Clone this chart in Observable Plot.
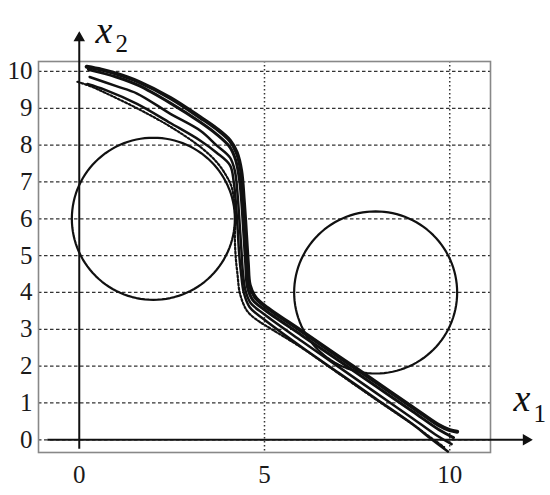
<!DOCTYPE html>
<html><head><meta charset="utf-8">
<script src="https://cdn.jsdelivr.net/npm/d3@7"></script>
<script src="https://cdn.jsdelivr.net/npm/@observablehq/plot@0.6"></script>
<style>body{margin:0;background:#fff}</style>
</head><body><div id="chart"></div>
<script>
// ---- tick values ----
const xTicks = [0, 5, 10];
const xGridTicks = [5, 10];
const yTicks = [0, 1, 2, 3, 4, 5, 6, 7, 8, 9, 10];

// ---- obstacles (circles): centers and radii ----
const circleCx = [2, 8];
const circleCy = [6, 4];
const circleR = [2.2, 2.2];

// ---- trajectories [x1, x2] ----
const trajA = [[0.2,10.13],[0.6,10.05],[1.0,9.94],[1.6,9.72],[2.46,9.28],[3.27,8.75],[3.7,8.45],[4.07,8.12],[4.25,7.8],[4.37,7.3],[4.44,6.5],[4.5,5.6],[4.55,4.8],[4.6,4.2],[4.75,3.87],[5.0,3.64],[6,2.95],[7,2.26],[8,1.57],[9,0.88],[9.7,0.4],[10.0,0.26],[10.2,0.22]];
const trajB = [[0.25,10.05],[1.0,9.85],[1.6,9.62],[2.46,9.14],[3.27,8.62],[3.7,8.3],[4.07,7.94],[4.22,7.6],[4.32,7.1],[4.38,6.5],[4.44,5.6],[4.49,4.8],[4.54,4.15],[4.68,3.8],[5.0,3.53],[6,2.84],[7,2.15],[8,1.46],[9,0.77],[9.7,0.28],[10.1,0.06]];
const trajC = [[0.28,9.85],[1.0,9.6],[1.56,9.4],[2.46,8.85],[3.27,8.39],[3.7,8.0],[4.07,7.66],[4.2,7.3],[4.27,6.7],[4.32,6.0],[4.38,5.1],[4.42,4.5],[4.48,4.08],[4.62,3.72],[5.0,3.4],[6,2.68],[7,1.98],[8,1.28],[9,0.58],[9.6,0.15],[10.05,-0.12]];
const trajD = [[0.22,9.66],[0.7,9.5],[1.56,9.12],[2.46,8.6],[3.27,8.12],[3.7,7.8],[4.07,7.45],[4.17,7.0],[4.23,6.4],[4.27,5.8],[4.32,5.0],[4.37,4.5],[4.44,4.0],[4.6,3.6],[5.0,3.26],[6,2.52],[7,1.82],[8,1.12],[9,0.42],[9.5,0.02],[9.95,-0.32]];
const trajDotted = [[-0.05,9.72],[0.3,9.6],[0.7,9.42],[1.56,9.0],[2.46,8.5],[3.27,7.95],[3.7,7.55],[3.95,7.2],[4.1,6.9],[4.18,6.5],[4.21,6.0],[4.2,5.5],[4.22,5.0],[4.27,4.5],[4.34,3.96],[4.53,3.5],[4.8,3.25],[5.0,3.12],[6,2.5],[7,1.8],[8,1.1],[9,0.42],[9.5,0.05],[9.85,-0.2]];

// ---- coordinate axes with arrows ----
const axisLines = [
  {x1: 0, y1: -0.24, x2: 0, y2: 11.02},
  {x1: -0.86, y1: 0, x2: 12.17, y2: 0}
];

// ---- build tables ----
const solid = [["A", trajA], ["B", trajB], ["C", trajC], ["D", trajD]]
  .flatMap(([id, pts]) => pts.map(([x, y]) => ({id, x, y})));
const dotted = trajDotted.map(([x, y]) => ({id: "F", x, y}));
const widths = {A: 4, B: 3, C: 2.5, D: 2.5};

const circlePts = circleCx.flatMap((cx, i) =>
  d3.range(0, 360, 3).map(a => ({
    id: i,
    x: cx + circleR[i] * Math.cos(a * Math.PI / 180),
    y: circleCy[i] + circleR[i] * Math.sin(a * Math.PI / 180)
  })));

const serif = "Liberation Serif";

const plot = Plot.plot({
  width: 550,
  height: 495,
  marginLeft: 38,
  marginRight: 60,
  marginTop: 61,
  marginBottom: 43,
  style: {background: "#fff"},
  x: {domain: [-1.1, 11.1]},
  y: {domain: [-0.345, 10.27]},
  marks: [
    Plot.ruleY(yTicks, {stroke: "#333", strokeWidth: 1.3, strokeDasharray: "3.5,2.5"}),
    Plot.ruleX(xGridTicks, {stroke: "#333", strokeWidth: 1.5, strokeDasharray: "1.5,2.5"}),
    Plot.frame({stroke: "#888", strokeWidth: 1.6}),
    Plot.axisX(xTicks, {tickSize: 0, tickPadding: 13, label: null, fontSize: 25, fontFamily: serif, fill: "#1a1a1a", stroke: "#1a1a1a", strokeWidth: 0.3}),
    Plot.axisY(yTicks, {tickSize: 0, tickPadding: 6, label: null, fontSize: 25, fontFamily: serif, fill: "#1a1a1a", stroke: "#1a1a1a", strokeWidth: 0.3}),
    Plot.line(circlePts, {x: "x", y: "y", z: "id", curve: "linear-closed", stroke: "#111", strokeWidth: 2.2}),
    ...["A", "B", "C", "D"].map(id =>
      Plot.line(solid.filter(d => d.id === id), {x: "x", y: "y", curve: "catmull-rom", stroke: "#111", strokeWidth: widths[id]})),
    Plot.line(dotted, {x: "x", y: "y", curve: "catmull-rom", stroke: "#111", strokeWidth: 2.2, strokeDasharray: "2,2"}),
    Plot.link(axisLines, {x1: "x1", y1: "y1", x2: "x2", y2: "y2", stroke: "#111", strokeWidth: 2}),
    Plot.dot([axisLines[0]], {x: "x2", y: "y2", symbol: "triangle", r: 3.3, fill: "#111", stroke: "#111", dy: 4}),
    Plot.dot([axisLines[1]], {x: "x2", y: "y2", symbol: "triangle", r: 3.3, fill: "#111", stroke: "#111", rotate: 90, dx: -4}),
    Plot.text(["x"], {frameAnchor: "top-left", dx: 57, dy: -45, textAnchor: "start", fontSize: 38, fontStyle: "italic", fontFamily: serif, fill: "#111"}),
    Plot.text(["2"], {frameAnchor: "top-left", dx: 77, dy: -27, textAnchor: "start", fontSize: 25, fontFamily: serif, fill: "#111"}),
    Plot.text(["x"], {frameAnchor: "bottom-right", dx: 23, dy: -42, textAnchor: "start", fontSize: 38, fontStyle: "italic", fontFamily: serif, fill: "#111"}),
    Plot.text(["1"], {frameAnchor: "bottom-right", dx: 43, dy: -31, textAnchor: "start", fontSize: 25, fontFamily: serif, fill: "#111"})
  ]
});
document.getElementById("chart").appendChild(plot);
</script>
</body></html>
